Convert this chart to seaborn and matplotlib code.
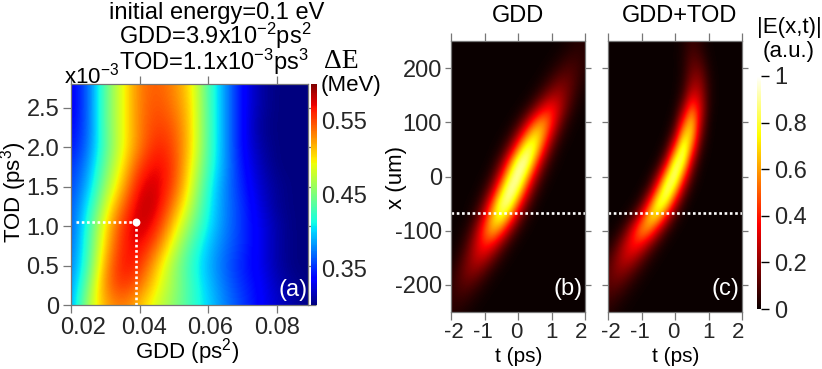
import numpy as np
import matplotlib
matplotlib.use("Agg")
import matplotlib.pyplot as plt
from matplotlib.transforms import ScaledTranslation
import seaborn as sns

# ---- data ----
GDD = [.02, .025, .03, .035, .04, .045, .05, .055, .06, .065, .07, .075, .08, .085, .09]
TOD = [0, .25, .5, .75, 1, 1.25, 1.5, 1.75, 2, 2.25, 2.5, 2.75]
DELTA_E = [
    [.38, .47, .52, .535, .51, .48, .455, .425, .40, .375, .355, .335, .32, .31, .30],
    [.375, .45, .535, .56, .54, .495, .46, .425, .395, .37, .35, .335, .315, .305, .30],
    [.37, .43, .525, .57, .56, .51, .46, .42, .39, .365, .345, .33, .31, .30, .30],
    [.365, .425, .51, .565, .575, .54, .48, .43, .395, .37, .35, .33, .31, .30, .30],
    [.36, .42, .50, .56, .585, .565, .505, .45, .405, .375, .35, .33, .31, .30, .30],
    [.36, .405, .48, .54, .585, .58, .53, .47, .41, .375, .35, .325, .305, .30, .30],
    [.355, .39, .46, .515, .575, .58, .55, .485, .415, .375, .345, .32, .305, .30, .30],
    [.35, .38, .445, .50, .555, .575, .555, .495, .425, .38, .34, .315, .30, .30, .30],
    [.34, .37, .435, .49, .535, .565, .55, .505, .43, .38, .335, .31, .30, .30, .30],
    [.335, .365, .44, .49, .535, .555, .545, .505, .43, .38, .335, .305, .30, .30, .30],
    [.33, .365, .44, .49, .535, .55, .535, .505, .43, .38, .335, .31, .30, .30, .30],
    [.33, .365, .44, .49, .535, .545, .53, .50, .43, .38, .335, .31, .30, .30, .30],
]
T_PS = [-2, -1.75, -1.5, -1.25, -1, -.75, -.5, -.25, 0, .25, .5, .75, 1, 1.25, 1.5, 1.75, 2]
X_UM = [250, 225, 200, 175, 150, 125, 100, 75, 50, 25, 0, -25, -50, -75, -100, -125, -150, -175, -200, -225, -250]
FIELD_GDD = [
    [0, 0, 0, 0, 0, 0, 0, 0, 0, 0, 0, 0, 0, .004, .016, .033, .04],
    [0, 0, 0, 0, 0, 0, 0, 0, 0, 0, 0, 0, .005, .019, .045, .06, .045],
    [0, 0, 0, 0, 0, 0, 0, 0, 0, 0, 0, .005, .024, .064, .098, .085, .04],
    [0, 0, 0, 0, 0, 0, 0, 0, 0, 0, .005, .029, .088, .152, .146, .08, .024],
    [0, 0, 0, 0, 0, 0, 0, 0, 0, .005, .034, .115, .222, .24, .147, .05, .01],
    [0, 0, 0, 0, 0, 0, 0, 0, .007, .044, .161, .345, .409, .274, .104, .022, .002],
    [0, 0, 0, 0, 0, 0, 0, .008, .056, .224, .499, .624, .437, .172, .036, .005, 0],
    [0, 0, 0, 0, 0, 0, .007, .052, .227, .559, .782, .613, .271, .069, .012, 0, 0],
    [0, 0, 0, 0, 0, .004, .039, .195, .557, .891, .804, .408, .117, .018, 0, 0, 0],
    [0, 0, 0, 0, 0, .026, .153, .501, .921, .953, .557, .183, .034, .004, 0, 0, 0],
    [0, 0, 0, 0, .013, .092, .363, .8, .996, .698, .275, .061, .008, 0, 0, 0, 0],
    [0, 0, 0, .006, .053, .249, .662, .989, .832, .395, .105, .016, 0, 0, 0, 0, 0],
    [0, 0, .003, .03, .165, .516, .905, .894, .499, .156, .028, 0, 0, 0, 0, 0, 0],
    [0, 0, .014, .088, .332, .699, .831, .557, .209, .044, .005, 0, 0, 0, 0, 0, 0],
    [0, .007, .05, .209, .495, .66, .495, .209, .05, .007, 0, 0, 0, 0, 0, 0, 0],
    [.003, .023, .11, .291, .435, .366, .172, .046, .007, 0, 0, 0, 0, 0, 0, 0, 0],
    [.011, .057, .171, .286, .27, .144, .043, .007, 0, 0, 0, 0, 0, 0, 0, 0, 0],
    [.032, .103, .185, .187, .107, .034, .006, 0, 0, 0, 0, 0, 0, 0, 0, 0, 0],
    [.052, .103, .117, .075, .027, .005, 0, 0, 0, 0, 0, 0, 0, 0, 0, 0, 0],
    [.055, .07, .05, .02, .005, 0, 0, 0, 0, 0, 0, 0, 0, 0, 0, 0, 0],
    [.04, .032, .014, .004, 0, 0, 0, 0, 0, 0, 0, 0, 0, 0, 0, 0, 0],
]
FIELD_TOD = [
    [0, 0, 0, 0, 0, 0, 0, 0, .002, .023, .068, .042, .006, 0, 0, 0, 0],
    [0, 0, 0, 0, 0, 0, 0, 0, .002, .031, .103, .073, .011, 0, 0, 0, 0],
    [0, 0, 0, 0, 0, 0, 0, 0, .001, .031, .142, .138, .028, .001, 0, 0, 0],
    [0, 0, 0, 0, 0, 0, 0, 0, .002, .041, .2, .21, .045, .002, 0, 0, 0],
    [0, 0, 0, 0, 0, 0, 0, 0, .004, .078, .317, .272, .049, .002, 0, 0, 0],
    [0, 0, 0, 0, 0, 0, 0, 0, .015, .196, .549, .323, .039, 0, 0, 0, 0],
    [0, 0, 0, 0, 0, 0, 0, .001, .053, .436, .74, .264, .019, 0, 0, 0, 0],
    [0, 0, 0, 0, 0, 0, 0, .012, .183, .733, .713, .168, .009, 0, 0, 0, 0],
    [0, 0, 0, 0, 0, 0, .003, .073, .502, .957, .502, .073, .003, 0, 0, 0, 0],
    [0, 0, 0, 0, 0, .001, .029, .296, .899, .837, .239, .021, 0, 0, 0, 0, 0],
    [0, 0, 0, 0, 0, .02, .198, .726, .98, .487, .089, .006, 0, 0, 0, 0, 0],
    [0, 0, 0, 0, .011, .122, .549, .975, .686, .191, .021, 0, 0, 0, 0, 0, 0],
    [0, 0, 0, .008, .094, .444, .895, .768, .281, .044, 0, 0, 0, 0, 0, 0, 0],
    [0, 0, .012, .093, .384, .752, .698, .308, .065, .006, 0, 0, 0, 0, 0, 0, 0],
    [0, .018, .111, .362, .617, .549, .255, .062, .008, 0, 0, 0, 0, 0, 0, 0, 0],
    [.02, .097, .269, .42, .371, .184, .052, .008, 0, 0, 0, 0, 0, 0, 0, 0, 0],
    [.07, .187, .292, .265, .14, .043, .008, 0, 0, 0, 0, 0, 0, 0, 0, 0, 0],
    [.118, .19, .185, .107, .038, .008, 0, 0, 0, 0, 0, 0, 0, 0, 0, 0, 0],
    [.119, .125, .079, .03, .007, 0, 0, 0, 0, 0, 0, 0, 0, 0, 0, 0, 0],
    [.079, .055, .023, .006, 0, 0, 0, 0, 0, 0, 0, 0, 0, 0, 0, 0, 0],
    [.039, .018, .005, .001, 0, 0, 0, 0, 0, 0, 0, 0, 0, 0, 0, 0, 0],
]
BEST_GDD = .039
BEST_TOD = 1.05
SLICE_X = -68
GDD_TICKS = [.02, .04, .06, .08]
GDD_LABELS = ["0.02", "0.04", "0.06", "0.08"]
TOD_TICKS = [0, .5, 1, 1.5, 2, 2.5]
TOD_LABELS = ["0", "0.5", "1.0", "1.5", "2.0", "2.5"]
T_TICKS = [-2, -1, 0, 1, 2]
X_TICKS = [-200, -100, 0, 100, 200]
DE_TICKS = [.35, .45, .55]
E_TICKS = [0, .2, .4, .6, .8, 1]

# ---- style ----
sns.set_theme(style="ticks")
plt.rcParams.update({
    "font.family": ["Liberation Sans", "DejaVu Sans"],
    "mathtext.fontset": "custom",
    "mathtext.rm": "Liberation Sans",
    "mathtext.default": "rm",
    "axes.grid": False,
})
W, H = 822, 369
GREY = "#777777"
DOT = (0, (1, 1))
jet = matplotlib.colormaps["jet"]
hot = matplotlib.colormaps["hot"]

fig = plt.figure(figsize=(W / 100, H / 100), dpi=100, facecolor="white")


def box(x0, y0, x1, y1):
    return fig.add_axes([x0 / W, 1 - y1 / H, (x1 - x0) / W, (y1 - y0) / H])


def label(x, y, s, size=17, **kw):
    kw.setdefault("ha", "center")
    kw.setdefault("va", "center")
    return fig.text(x / W, 1 - y / H, s, fontsize=size, color=kw.pop("color", "black"), **kw)


def frame(ax, ylen=4.5, xlen=5.5):
    for sp in ax.spines.values():
        sp.set_color(GREY)
        sp.set_linewidth(.9)
    ax.tick_params(axis="x", top=True, bottom=True, length=xlen, width=.9, color=GREY, labelsize=16, pad=2)
    ax.tick_params(axis="y", left=True, right=True, length=ylen, width=.9, color=GREY, labelsize=17, pad=2)


def shift(lbl, dx):
    lbl.set_transform(lbl.get_transform() + ScaledTranslation(dx / 100, 0, fig.dpi_scale_trans))


# ---- panel (a) ----
axa = box(71, 84, 308, 305)
dg = (GDD[1] - GDD[0]) / 2
dt = (TOD[1] - TOD[0]) / 2
axa.imshow(np.array(DELTA_E), origin="lower", aspect="auto", cmap=jet, vmin=.3, vmax=.6,
           extent=[GDD[0] - dg, GDD[-1] + dg, TOD[0] - dt, TOD[-1] + dt],
           interpolation="bicubic", interpolation_stage="data")
sns.lineplot(x=[.0215, BEST_GDD], y=[BEST_TOD, BEST_TOD], ax=axa, color="white", lw=1.9,
             linestyle=DOT, estimator=None, sort=False, errorbar=None)
sns.lineplot(x=[BEST_GDD, BEST_GDD], y=[0, BEST_TOD], ax=axa, color="white", lw=1.9,
             linestyle=DOT, estimator=None, sort=False, errorbar=None)
sns.scatterplot(x=[BEST_GDD], y=[BEST_TOD], ax=axa, color="white", s=32, edgecolor="white", linewidth=0, zorder=5)
axa.set(xlim=(.02, .0891), ylim=(0, 2.8), xlabel="", ylabel="")
axa.set_xticks(GDD_TICKS, GDD_LABELS)
axa.set_yticks(TOD_TICKS, TOD_LABELS)
frame(axa, ylen=5.5, xlen=5.5)
axa.tick_params(axis="x", labelsize=17, pad=3)
axa.tick_params(axis="y", labelsize=17, pad=3)
for lbl, d in zip(axa.get_xticklabels(), [12, 4, 2, 0]):
    shift(lbl, d)

# colour bar (a)
LEVELS = np.linspace(1, 0, 256)[:, None]
cba = box(311, 84, 317, 305)
sns.heatmap(LEVELS * .3 + .3, ax=cba, cmap=jet, vmin=.3, vmax=.6, cbar=False, xticklabels=False, yticklabels=False)
cba.yaxis.tick_right()
cba.set_yticks([(.6 - v) / .3 * 256 for v in DE_TICKS], [f"{v:.2f}" for v in DE_TICKS])
cba.tick_params(axis="y", length=0, labelsize=17, pad=3, labelrotation=0)
cba.set_xticks([])

# ---- panels (b), (c) ----
for name, field, x0, x1, tag in [("GDD", FIELD_GDD, 451, 585, "(b)"), ("GDD+TOD", FIELD_TOD, 608, 742, "(c)")]:
    ax = box(x0, 41, x1, 312)
    ax.imshow(np.array(field), origin="upper", aspect="auto", cmap=hot, vmin=0, vmax=1,
              extent=[T_PS[0] - .125, T_PS[-1] + .125, X_UM[-1] - 12.5, X_UM[0] + 12.5],
              interpolation="bicubic", interpolation_stage="data")
    sns.lineplot(x=[T_PS[0], T_PS[-1]], y=[SLICE_X, SLICE_X], ax=ax, color="white", lw=1.9,
                 linestyle=DOT, estimator=None, sort=False, errorbar=None)
    ax.set(xlim=(-2, 2), ylim=(-250, 250), xlabel="", ylabel="")
    ax.set_xticks(T_TICKS, [str(v) for v in T_TICKS])
    ax.set_yticks(X_TICKS, [str(v) for v in X_TICKS] if tag == "(b)" else [])
    frame(ax)
    labels = ax.get_xticklabels()
    shift(labels[0], 3)
    shift(labels[1], -2)
    shift(labels[2], -2)
    shift(labels[4], -4)
    label((x0 + x1) / 2 + (5 if tag == "(c)" else 0), 16, name, size=17)
    label((x0 + x1) / 2 + 1, 356, "t (ps)", size=15)
    label(x1 - 17, 289, tag, size=17, color="white")

# colour bar (c)
cbc = box(757, 76, 761, 309)
sns.heatmap(LEVELS, ax=cbc, cmap=hot, vmin=0, vmax=1, cbar=False, xticklabels=False, yticklabels=False)
cbc.yaxis.tick_right()
cbc.set_yticks([(1 - v) * 256 for v in E_TICKS], [f"{v:g}" for v in E_TICKS])
cbc.tick_params(axis="y", length=6, width=1, color="black", labelsize=17, pad=3.5, labelrotation=0)
cbc.set_xticks([])

# ---- free text ----
label(217, 13, "initial energy=0.1 eV", size=17)
label(215, 36, "GDD=3.9x10$^{-2}$ps$^{2}$", size=17)
label(214, 62, "TOD=1.1x10$^{-3}$ps$^{3}$", size=17)
label(92, 76, "x10$^{-3}$", size=16)
label(341, 62, "ΔE", size=20, family="Liberation Serif")
label(351, 86, "(MeV)", size=16)
label(187, 352, "GDD (ps$^{2}$)", size=16)
label(14, 192, "TOD (ps$^{3}$)", size=16, rotation=90)
label(396, 178, "x (um)", size=16, rotation=90)
label(789, 28, "|E(x,t)|", size=16)
label(789, 51, "(a.u.)", size=16)
label(293, 290, "(a)", size=17, color="white")

fig.savefig("out.png", dpi=100, facecolor="white")
